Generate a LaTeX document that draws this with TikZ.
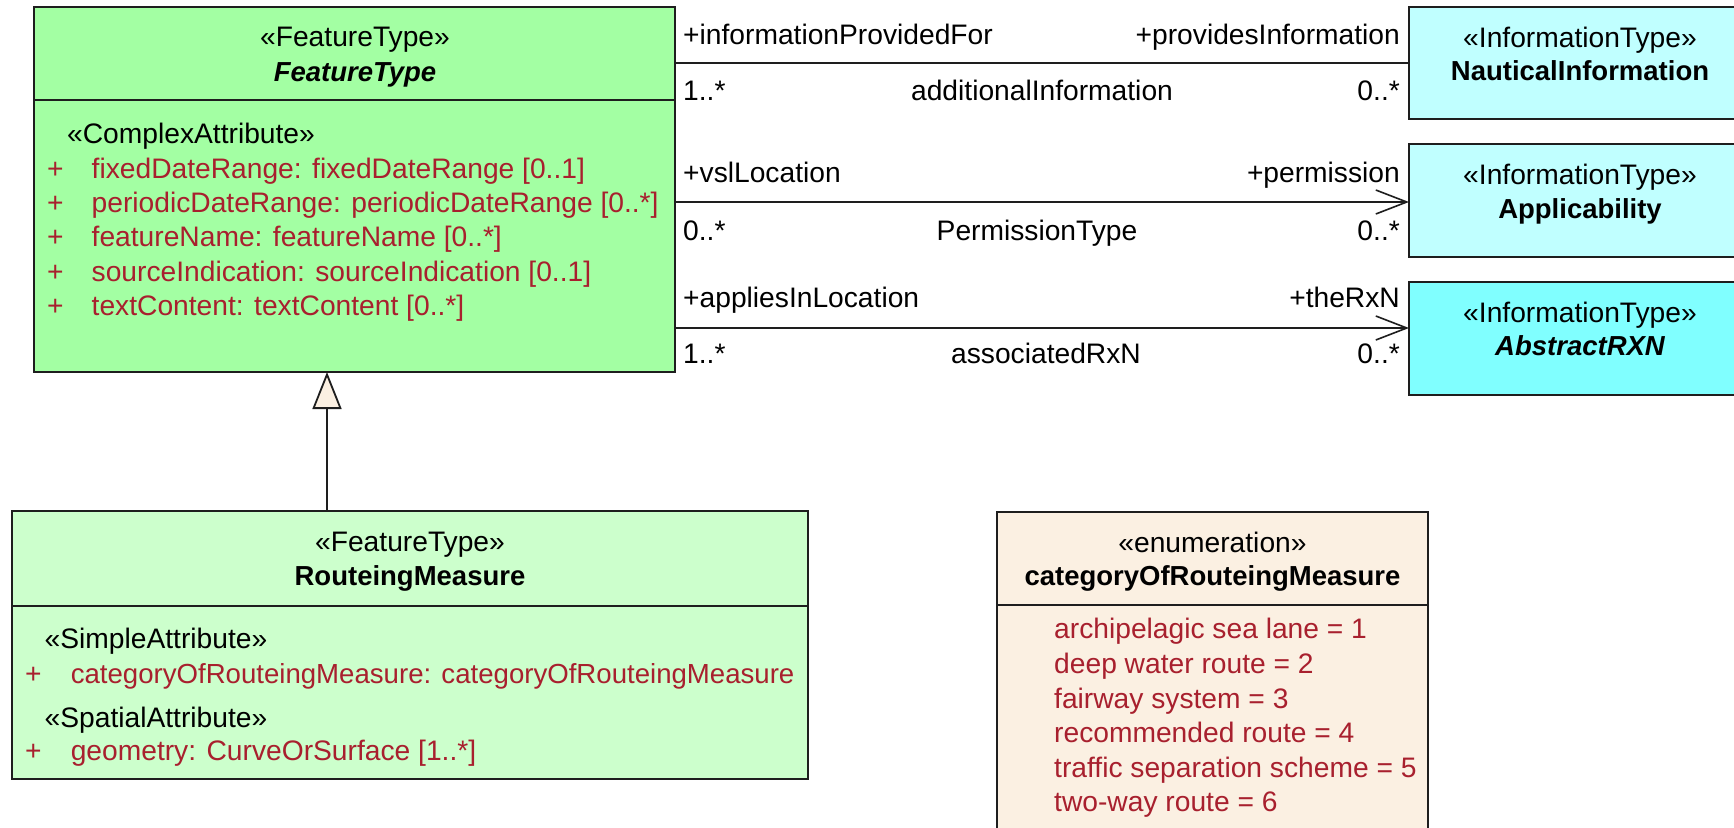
\documentclass[tikz,border=0pt]{standalone}
\usepackage{fontspec}
\setmainfont{Liberation Sans}
\usetikzlibrary{arrows.meta}
\definecolor{ftgreen}{HTML}{A3FFA3}
\definecolor{rmgreen}{HTML}{CCFFCC}
\definecolor{infocyan}{HTML}{C0FFFF}
\definecolor{rxncyan}{HTML}{80FFFF}
\definecolor{enumfill}{HTML}{FBF0E2}
\definecolor{attrred}{HTML}{A8202E}
\definecolor{boxline}{HTML}{1E1E1E}
\newcommand{\fs}{\fontsize{28.2}{33}\selectfont}
\newcommand{\fsn}{\fontsize{27.6}{33}\selectfont}
\newcommand{\fb}{\fontsize{27.5}{33}\selectfont\bfseries}
\begin{document}
\begin{tikzpicture}[x=1pt,y=-1pt,
  box/.style={draw=boxline, line width=2pt, rectangle, inner sep=0pt, outer sep=0pt, anchor=north west},
  divline/.style={draw=boxline, line width=2pt},
  txt/.style={inner sep=0pt, anchor=base, font=\fs},
  txtl/.style={inner sep=0pt, anchor=base west, font=\fs},
  txtr/.style={inner sep=0pt, anchor=base east, font=\fs},
  attr/.style={txtl, text=attrred},
  assoc/.style={draw=boxline, line width=1.8pt},
  navarrow/.style={-{Straight Barb[length=31pt,width=24pt,line width=1.6pt]}},
  gen/.style={draw=boxline, line width=1.8pt, -{Triangle[length=37pt,width=29pt,fill=enumfill,line width=1.8pt]}}
]
\clip (0,0) rectangle (1734,827);
\fill[white] (0,0) rectangle (1734,827);

% ---- boxes
\node[box, fill=ftgreen, minimum width=641pt, minimum height=365pt] (ft) at (34,7) {};
\draw[divline] ([yshift=-93pt]ft.north west) -- ([yshift=-93pt]ft.north east);

\node[box, fill=rmgreen, minimum width=796pt, minimum height=268pt] (rm) at (11.5,511) {};
\draw[divline] ([yshift=-95pt]rm.north west) -- ([yshift=-95pt]rm.north east);

\node[box, fill=enumfill, minimum width=431pt, minimum height=340pt] (en) at (997,512) {};
\draw[divline] ([yshift=-93pt]en.north west) -- ([yshift=-93pt]en.north east);

\node[box, fill=infocyan, minimum width=342pt, minimum height=112pt] (ni) at (1409,7) {};
\node[box, fill=infocyan, minimum width=342pt, minimum height=113pt] (ap) at (1409,144) {};
\node[box, fill=rxncyan, minimum width=342pt, minimum height=113pt] (ar) at (1409,282) {};

% ---- connectors
\coordinate (y1) at (0,63);
\coordinate (y2) at (0,202);
\coordinate (y3) at (0,328);
\coordinate (gx) at (327,0);
\draw[assoc] (ft.east |- y1) -- (ni.west |- y1);
\draw[assoc,navarrow] (ft.east |- y2) -- (ap.west |- y2);
\draw[assoc,navarrow] (ft.east |- y3) -- (ar.west |- y3);
\draw[gen] (rm.north -| gx) -- (ft.south -| gx);

% ---- association labels
\node[txtl] at (683,44) {+informationProvidedFor};
\node[txtr] at (1400,44) {+providesInformation};
\node[txtl] at (683,100) {1..*};
\node[txt] at (1042,100) {additionalInformation};
\node[txtr] at (1400,100) {0..*};

\node[txtl] at (683,182) {+vslLocation};
\node[txtr] at (1400,182) {+permission};
\node[txtl] at (683,240) {0..*};
\node[txt] at (1037,240) {PermissionType};
\node[txtr] at (1400,240) {0..*};

\node[txtl] at (683,307) {+appliesInLocation};
\node[txtr] at (1400,307) {+theRxN};
\node[txtl] at (683,363) {1..*};
\node[txt] at (1046,363) {associatedRxN};
\node[txtr] at (1400,363) {0..*};

% ---- FeatureType text
\node[txt] at (355,46) {«FeatureType»};
\node[txt, font=\fb\itshape] at (355,81) {FeatureType};
\node[txtl] at (67,143) {«ComplexAttribute»};
\node[attr] at (47,178) {+};
\node[attr] at (91.5,178) {fixedDateRange: fixedDateRange [0..1]};
\node[attr] at (47,212) {+};
\node[attr] at (91.5,212) {periodicDateRange: periodicDateRange [0..*]};
\node[attr] at (47,246) {+};
\node[attr] at (91.5,246) {featureName: featureName [0..*]};
\node[attr] at (47,281) {+};
\node[attr] at (91.5,281) {sourceIndication: sourceIndication [0..1]};
\node[attr] at (47,315) {+};
\node[attr] at (91.5,315) {textContent: textContent [0..*]};

% ---- information types
\node[txt] at (1580,47) {«InformationType»};
\node[txt, font=\fb] at (1580,80) {NauticalInformation};
\node[txt] at (1580,184) {«InformationType»};
\node[txt, font=\fb] at (1580,218) {Applicability};
\node[txt] at (1580,322) {«InformationType»};
\node[txt, font=\fb\itshape] at (1580,355) {AbstractRXN};

% ---- RouteingMeasure text
\node[txt] at (410,551) {«FeatureType»};
\node[txt, font=\fb] at (410,585) {RouteingMeasure};
\node[txtl] at (44.5,648) {«SimpleAttribute»};
\node[attr] at (25,683) {+};
\node[attr, font=\fsn] at (70.6,683) {categoryOfRouteingMeasure: categoryOfRouteingMeasure};
\node[txtl] at (44.5,727) {«SpatialAttribute»};
\node[attr] at (25,760) {+};
\node[attr] at (70.6,760) {geometry: CurveOrSurface [1..*]};

% ---- enumeration text
\node[txt] at (1212.5,552) {«enumeration»};
\node[txt, font=\fb] at (1212.5,585) {categoryOfRouteingMeasure};
\node[attr] at (1054,638) {archipelagic sea lane = 1};
\node[attr] at (1054,673) {deep water route = 2};
\node[attr] at (1054,708) {fairway system = 3};
\node[attr] at (1054,742) {recommended route = 4};
\node[attr] at (1054,777) {traffic separation scheme = 5};
\node[attr] at (1054,811) {two-way route = 6};
\end{tikzpicture}
\end{document}
